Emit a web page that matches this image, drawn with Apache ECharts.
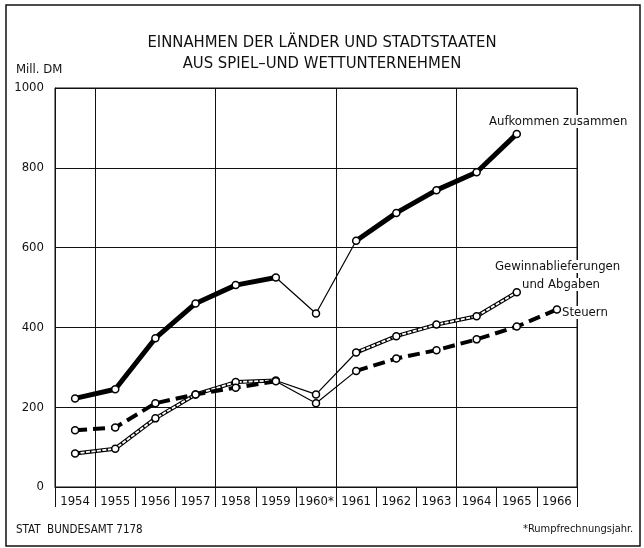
<!DOCTYPE html>
<html>
<head>
<meta charset="utf-8">
<script src="https://cdn.jsdelivr.net/npm/echarts@6/dist/echarts.min.js"></script>
<style>
  html, body { margin: 0; padding: 0; background: #fff; }
  #chart { width: 644px; height: 548px; }
</style>
</head>
<body>
<div id="chart"></div>
<script>
var years = ["1954", "1955", "1956", "1957", "1958", "1959", "1960*", "1961", "1962", "1963", "1964", "1965", "1966"];
var aufkommen = [222, 245, 373, 460, 506, 525, 435, 617, 687, 744, 789, 885, null];
var gewinn = [84, 96, 172, 232, 263, 267, 232, 337, 378, 407, 428, 488, null];
var steuern = [142, 149, 210, 232, 249, 265, 210, 291, 322, 343, 370, 402, 445];
var yTicks = [0, 200, 400, 600, 800, 1000];

var FONT = "'DejaVu Sans Condensed', 'Liberation Sans Narrow', sans-serif";

// 1959-1961 (Rumpfrechnungsjahr) is drawn with a thin line
function thick(arr) {
  return arr.map(function (v, i) { return i === 6 ? null : v; });
}
function thin(arr) {
  return arr.map(function (v, i) { return (i >= 5 && i <= 7) ? v : null; });
}

function lineSeries(data, lineStyle, z, withDots) {
  var s = {
    type: "line",
    data: data,
    connectNulls: false,
    animation: false,
    silent: true,
    z: z,
    lineStyle: lineStyle
  };
  if (withDots) {
    s.symbol = "circle";
    s.symbolSize = 7;
    s.showSymbol = true;
    s.itemStyle = { color: "#fff", borderColor: "#000", borderWidth: 1.5 };
  } else {
    s.symbol = "none";
  }
  return s;
}

var myChart = echarts.init(document.getElementById("chart"));

myChart.setOption({
  backgroundColor: "#fff",
  title: {
    text: "EINNAHMEN DER LÄNDER UND STADTSTAATEN\nAUS SPIEL\u2013UND WETTUNTERNEHMEN",
    left: "center",
    top: 27,
    textStyle: { fontFamily: FONT, fontSize: 16.5, fontWeight: "normal", color: "#111", lineHeight: 21 }
  },
  grid: {
    left: 55, right: 67, top: 88, bottom: 61,
    show: true, borderColor: "#111", borderWidth: 1
  },
  xAxis: {
    type: "category",
    data: years,
    boundaryGap: true,
    axisLine: { lineStyle: { color: "#111", width: 1 } },
    axisTick: { show: true, length: 20, lineStyle: { color: "#111" } },
    axisLabel: { fontFamily: FONT, fontSize: 13, color: "#111", margin: 8, interval: 0 },
    splitLine: {
      show: true,
      interval: function (index) { return index === 1 || index === 4 || index === 7 || index === 10; },
      lineStyle: { color: "#111", width: 1 }
    }
  },
  yAxis: {
    type: "value",
    min: yTicks[0],
    max: yTicks[yTicks.length - 1],
    interval: 200,
    axisLine: { show: true, lineStyle: { color: "#111" } },
    axisTick: { show: false },
    axisLabel: {
      fontFamily: FONT, fontSize: 13, color: "#111", margin: 11,
      formatter: function (v) { return String(v); }
    },
    splitLine: { show: true, lineStyle: { color: "#111", width: 1 } }
  },
  series: [
    // Aufkommen zusammen
    lineSeries(thin(aufkommen), { color: "#000", width: 1.2 }, 2, false),
    lineSeries(thick(aufkommen), { color: "#000", width: 5 }, 3, false),
    // Gewinnablieferungen und Abgaben (double line)
    lineSeries(thin(gewinn), { color: "#000", width: 1.2 }, 2, false),
    lineSeries(thick(gewinn), { color: "#000", width: 4 }, 3, false),
    lineSeries(thick(gewinn), { color: "#fff", width: 1.8, type: [4, 1.5] }, 4, false),
    // Steuern
    lineSeries(thin(steuern), { color: "#000", width: 1.2 }, 2, false),
    lineSeries(thick(steuern), { color: "#000", width: 4, type: [12, 6] }, 5, false),
    // markers
    lineSeries(aufkommen, { width: 0, opacity: 0 }, 10, true),
    lineSeries(gewinn, { width: 0, opacity: 0 }, 10, true),
    lineSeries(steuern, { width: 0, opacity: 0 }, 10, true)
  ],
  graphic: [
    {
      type: "rect", z: 0, silent: true,
      shape: { x: 6, y: 5, width: 634, height: 541 },
      style: { fill: "none", stroke: "#111", lineWidth: 1.5 }
    },
    {
      type: "text", left: 16, top: 63, z: 20,
      style: { text: "Mill. DM", font: "13px " + FONT, fill: "#111" }
    },
    {
      type: "text", left: 489, top: 115, z: 20,
      style: { text: "Aufkommen zusammen", font: "13px " + FONT, fill: "#111", backgroundColor: "#fff" }
    },
    {
      type: "text", left: 495, top: 260, z: 20,
      style: { text: "Gewinnablieferungen", font: "13px " + FONT, fill: "#111", backgroundColor: "#fff" }
    },
    {
      type: "text", left: 522, top: 278, z: 20,
      style: { text: "und Abgaben", font: "13px " + FONT, fill: "#111", backgroundColor: "#fff" }
    },
    {
      type: "text", left: 562, top: 306, z: 20,
      style: { text: "Steuern", font: "13px " + FONT, fill: "#111", backgroundColor: "#fff" }
    },
    {
      type: "text", left: 16, top: 524, z: 20,
      style: { text: "STAT  BUNDESAMT 7178", font: "11.5px " + FONT, fill: "#111" }
    },
    {
      type: "text", left: 523, top: 524, z: 20,
      style: { text: "*Rumpfrechnungsjahr.", font: "11px " + FONT, fill: "#111" }
    }
  ]
});
</script>
</body>
</html>
